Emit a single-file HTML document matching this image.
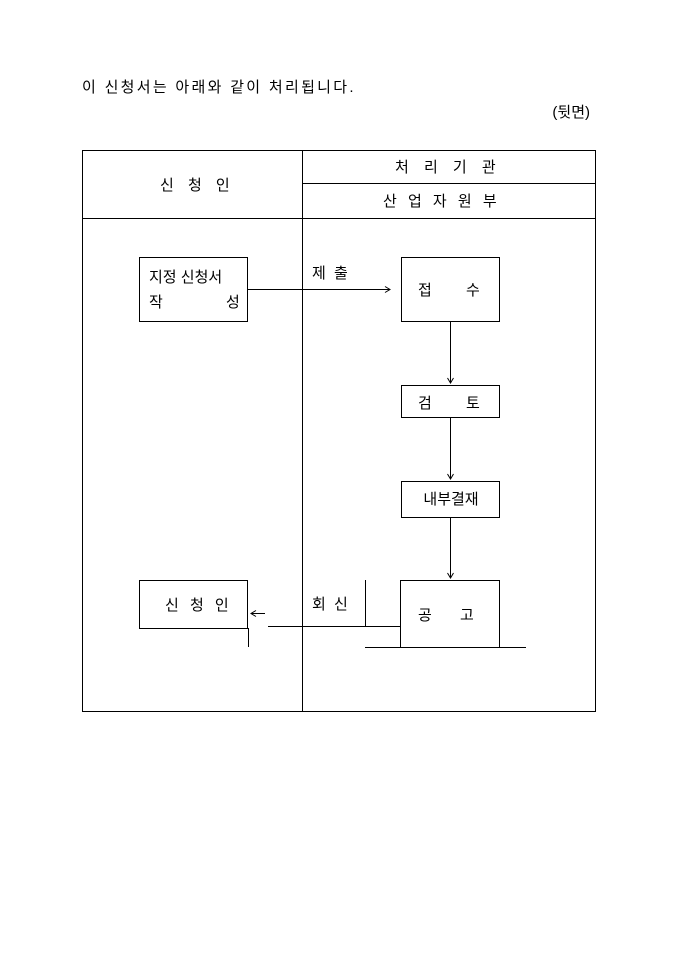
<!DOCTYPE html>
<html><head><meta charset="utf-8"><style>
body{margin:0;background:#fff;}
svg text{font-family:"Liberation Sans","Noto Sans CJK KR","NanumGothic",sans-serif;font-size:15px;fill:#000;}
</style></head><body>
<svg width="680" height="962" viewBox="0 0 680 962" xmlns="http://www.w3.org/2000/svg">
<g stroke="#000" stroke-width="1" fill="none">
<rect x="82.5" y="150.5" width="513" height="561"/>
<line x1="302.5" y1="150" x2="302.5" y2="712"/>
<line x1="302" y1="183.5" x2="596" y2="183.5"/>
<line x1="82" y1="218.5" x2="596" y2="218.5"/>
<rect x="139.5" y="257.5" width="108" height="64"/>
<rect x="401.5" y="257.5" width="98" height="64"/>
<rect x="401.5" y="385.5" width="98" height="32"/>
<rect x="401.5" y="481.5" width="98" height="36"/>
<rect x="400.5" y="580.5" width="99" height="67"/>
<rect x="139.5" y="580.5" width="108" height="48"/>
<line x1="248" y1="289.5" x2="390" y2="289.5"/>
<path d="M385 286.5 L390 289.5 L385 292.5"/>
<line x1="450.5" y1="322" x2="450.5" y2="383"/>
<path d="M447.5 378 L450.5 383 L453.5 378"/>
<line x1="450.5" y1="418" x2="450.5" y2="479"/>
<path d="M447.5 474 L450.5 479 L453.5 474"/>
<line x1="450.5" y1="518" x2="450.5" y2="578"/>
<path d="M447.5 573 L450.5 578 L453.5 573"/>
<line x1="365" y1="647.5" x2="526" y2="647.5"/>
<line x1="365.5" y1="580" x2="365.5" y2="626"/>
<line x1="268" y1="626.5" x2="400" y2="626.5"/>
<line x1="248.5" y1="628" x2="248.5" y2="647"/>
<line x1="251" y1="613.5" x2="265" y2="613.5"/>
<path d="M256 610.5 L251 613.5 L256 616.5"/>
</g>
<text x="82" y="92" letter-spacing="2.3">이 신청서는 아래와 같이 처리됩니다.</text>
<text x="590" y="117" text-anchor="end">(뒷면)</text>
<text x="160" y="190" letter-spacing="5">신 청 인</text>
<text x="395" y="172" letter-spacing="5.5">처 리 기 관</text>
<text x="383" y="206" letter-spacing="3.5">산 업 자 원 부</text>
<text x="149" y="282">지정 신청서</text>
<text x="149" y="307">작</text><text x="226" y="307">성</text>
<text x="312" y="278" letter-spacing="2">제 출</text>
<text x="418" y="295">접</text><text x="466" y="295">수</text>
<text x="418" y="408">검</text><text x="466" y="408">토</text>
<text x="451" y="504" text-anchor="middle">내부결재</text>
<text x="418" y="620">공</text><text x="460" y="620">고</text>
<text x="312" y="609" letter-spacing="2">회 신</text>
<text x="165" y="610" letter-spacing="3.5">신 청 인</text>
</svg>
</body></html>
